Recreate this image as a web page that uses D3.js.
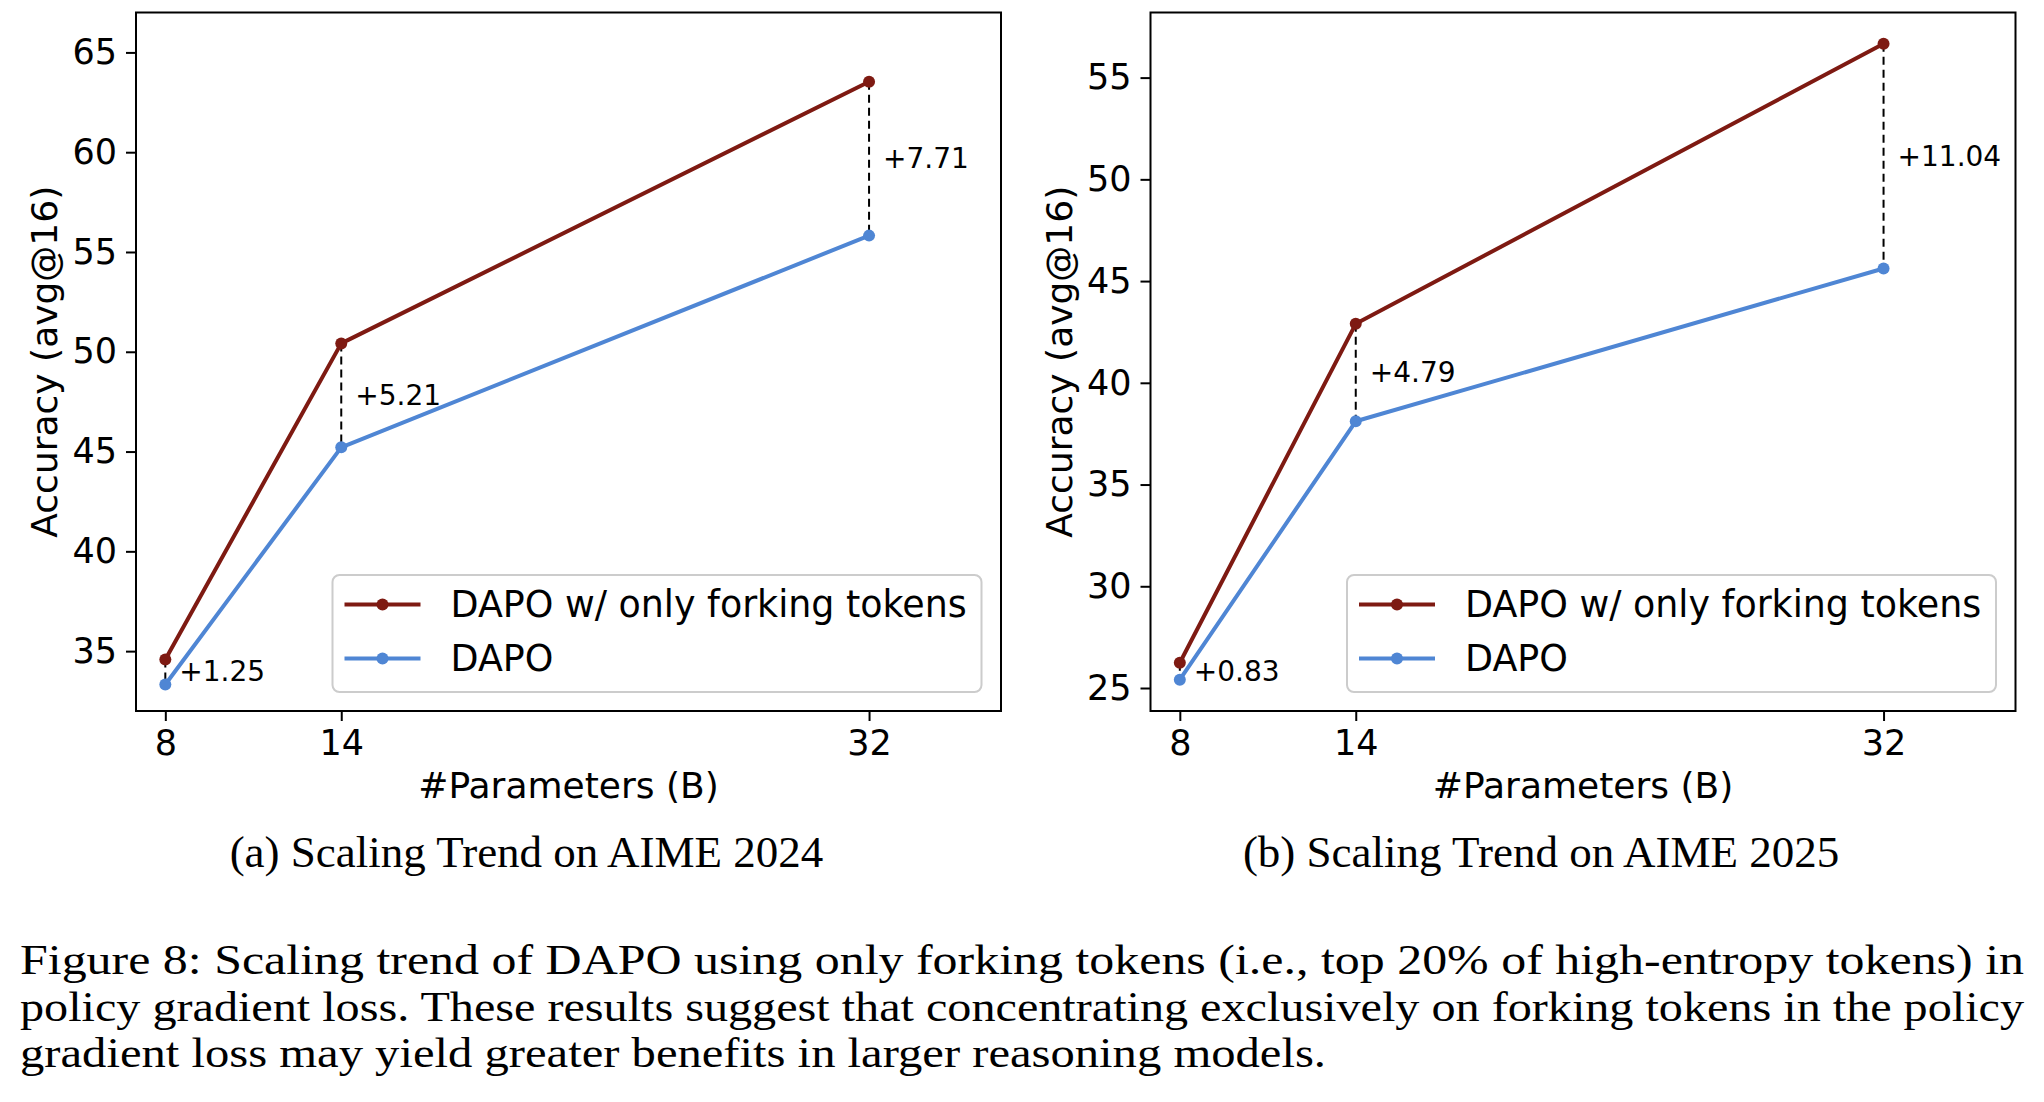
<!DOCTYPE html>
<html><head><meta charset="utf-8">
<script src="https://cdn.jsdelivr.net/npm/d3@7/dist/d3.min.js"></script>
<style>
html,body{margin:0;padding:0;background:#fff;}
svg{display:block;}
</style></head>
<body>
<svg id="fig" width="2044" height="1102"></svg>
<script>
// ---- data ----
const params = [8, 14, 32];
const seriesNames = ["DAPO w/ only forking tokens", "DAPO"];
const aime24Fork = [34.58, 50.42, 63.53];
const aime24Dapo = [33.33, 45.21, 55.82];
const aime25Fork = [26.24, 42.90, 56.66];
const aime25Dapo = [25.41, 38.11, 45.62];
const gains24 = ["+1.25", "+5.21", "+7.71"];
const gains25 = ["+0.83", "+4.79", "+11.04"];
const xTicks = [8, 14, 32];
const yTicks24 = [35, 40, 45, 50, 55, 60, 65];
const yTicks25 = [25, 30, 35, 40, 45, 50, 55];
const subCaptions = ["(a) Scaling Trend on AIME 2024", "(b) Scaling Trend on AIME 2025"];
const captionLines = [
  "Figure 8: Scaling trend of DAPO using only forking tokens (i.e., top 20% of high-entropy tokens) in",
  "policy gradient loss. These results suggest that concentrating exclusively on forking tokens in the policy",
  "gradient loss may yield greater benefits in larger reasoning models."
];
const xLabel = "#Parameters (B)";
const yLabel = "Accuracy (avg@16)";

// ---- styling ----
const RED = "#7e1a12", BLUE = "#4f86d4";
const SANS = "DejaVu Sans", SERIF = "Liberation Serif";

const svg = d3.select("#fig");
svg.append("rect").attr("width", 2044).attr("height", 1102).attr("fill", "#fff");

const panels = [
  {left: 136, fork: aime24Fork, dapo: aime24Dapo, gains: gains24, yDom: [32.0, 67.0], yTicks: yTicks24, cap: subCaptions[0]},
  {left: 1150.5, fork: aime25Fork, dapo: aime25Dapo, gains: gains25, yDom: [23.87, 58.2], yTicks: yTicks25, cap: subCaptions[1]}
];
const PW = 865, topY = 12.5, bottomY = 711;

panels.forEach(p => {
  const x = d3.scaleLinear().domain([7, 36.5]).range([p.left, p.left + PW]);
  const y = d3.scaleLinear().domain(p.yDom).range([bottomY, topY]);
  const g = svg.append("g");

  // axes
  const xa = g.append("g").attr("transform", `translate(0,${bottomY})`)
    .call(d3.axisBottom(x).tickValues(xTicks).tickFormat(d3.format("d")).tickSize(10).tickPadding(9));
  const ya = g.append("g").attr("transform", `translate(${p.left},0)`)
    .call(d3.axisLeft(y).tickValues(p.yTicks).tickFormat(d3.format("d")).tickSize(10).tickPadding(9));
  [xa, ya].forEach(a => {
    a.select(".domain").remove();
    a.selectAll(".tick line").attr("stroke", "#000").attr("stroke-width", 2);
    a.selectAll(".tick text").attr("fill", "#000").attr("font-family", SANS).attr("font-size", 35);
  });
  // frame
  g.append("rect").attr("x", p.left).attr("y", topY).attr("width", PW).attr("height", bottomY - topY)
    .attr("fill", "none").attr("stroke", "#000").attr("stroke-width", 2);

  // dashed gap lines + labels
  params.forEach((v, i) => {
    g.append("line").attr("x1", x(v)).attr("x2", x(v)).attr("y1", y(p.fork[i])).attr("y2", y(p.dapo[i]))
      .attr("stroke", "#000").attr("stroke-width", 2).attr("stroke-dasharray", "8,5");
    g.append("text").attr("x", x(v) + 14).attr("y", (y(p.fork[i]) + y(p.dapo[i])) / 2)
      .attr("dominant-baseline", "central").attr("font-family", SANS).attr("font-size", 28)
      .attr("fill", "#000").text(p.gains[i]);
  });

  const line = d3.line().x((d, i) => x(params[i])).y(d => y(d));
  [[p.dapo, BLUE], [p.fork, RED]].forEach(([vals, col]) => {
    g.append("path").datum(vals).attr("d", line).attr("fill", "none").attr("stroke", col)
      .attr("stroke-width", 4).attr("stroke-linejoin", "round");
    g.selectAll(null).data(vals).enter().append("circle")
      .attr("cx", (d, i) => x(params[i])).attr("cy", d => y(d)).attr("r", 6).attr("fill", col);
  });

  // legend
  const lx = p.left + PW - 19.5 - 649, ly = bottomY - 19 - 117;
  g.append("rect").attr("x", lx).attr("y", ly).attr("width", 649).attr("height", 117)
    .attr("rx", 7).attr("fill", "rgba(255,255,255,0.8)").attr("stroke", "#cccccc").attr("stroke-width", 2);
  [[seriesNames[0], RED], [seriesNames[1], BLUE]].forEach(([name, col], k) => {
    const ry = ly + 29.5 + k * 54;
    g.append("line").attr("x1", lx + 12).attr("x2", lx + 88).attr("y1", ry).attr("y2", ry)
      .attr("stroke", col).attr("stroke-width", 4);
    g.append("circle").attr("cx", lx + 50).attr("cy", ry).attr("r", 6).attr("fill", col);
    g.append("text").attr("x", lx + 118).attr("y", ry).attr("dominant-baseline", "central")
      .attr("font-family", SANS).attr("font-size", 36.4).attr("fill", "#000").text(name);
  });

  // axis labels
  g.append("text").attr("x", p.left + PW / 2).attr("y", 798).attr("text-anchor", "middle")
    .attr("font-family", SANS).attr("font-size", 36).attr("fill", "#000").text(xLabel);
  g.append("text").attr("transform", `translate(${p.left - 79},${(topY + bottomY) / 2}) rotate(-90)`)
    .attr("text-anchor", "middle").attr("font-family", SANS).attr("font-size", 36).attr("fill", "#000").text(yLabel);

  // sub caption
  g.append("text").attr("x", p.left + PW / 2 - 42).attr("y", 867).attr("text-anchor", "middle")
    .attr("font-family", SERIF).attr("font-size", 45).attr("fill", "#000").text(p.cap);
});

// figure caption
const capBase = [974, 1021, 1067];
const capLen = [2004, 2004, 1306];
captionLines.forEach((t, i) => {
  svg.append("text").attr("x", 20).attr("y", capBase[i]).attr("font-family", SERIF).attr("font-size", 43)
    .attr("fill", "#000").attr("textLength", capLen[i]).attr("lengthAdjust", "spacingAndGlyphs").text(t);
});
</script>
</body></html>
